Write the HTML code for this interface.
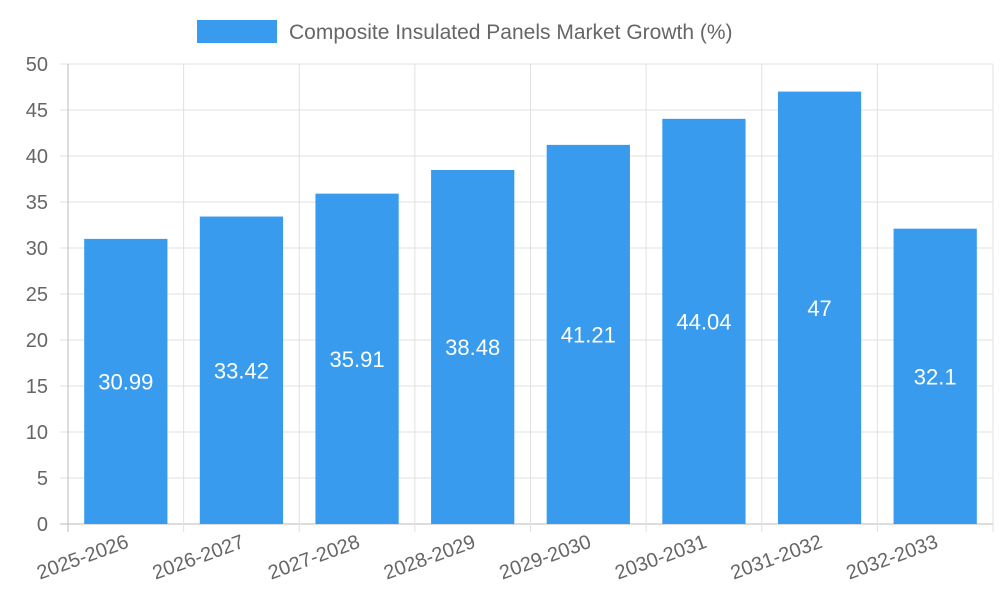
<!DOCTYPE html>
<html><head><meta charset="utf-8"><style>
body{margin:0;background:#fff;}
svg text{font-family:"Liberation Sans",sans-serif;}
</style></head><body>
<svg id="chart" width="1000" height="600" xmlns="http://www.w3.org/2000/svg">
<g id="legend">
<rect x="197" y="20" width="80" height="23" fill="#389bee"/>
<text x="289" y="39" font-size="21" fill="#666">Composite Insulated Panels Market Growth (%)</text>
</g>
<g id="grid"></g><g id="bars"></g><g id="axes"></g>
</svg>
<script>
const categories=["2025-2026","2026-2027","2027-2028","2028-2029","2029-2030","2030-2031","2031-2032","2032-2033"];
const values=[30.99,33.42,35.91,38.48,41.21,44.04,47,32.1];
const valueLabels=["30.99","33.42","35.91","38.48","41.21","44.04","47","32.1"];
const yTicks=[0,5,10,15,20,25,30,35,40,45,50];
const NS="http://www.w3.org/2000/svg";
const L=68,R=993,T=64,B=524,yMax=50;
const bw=(R-L)/categories.length;
const y=v=>B-(v/yMax)*(B-T);
const x=i=>L+bw*i;
function mk(tag,attrs,parent,txt){const e=document.createElementNS(NS,tag);for(const k in attrs)e.setAttribute(k,attrs[k]);if(txt!==undefined)e.textContent=txt;document.getElementById(parent).appendChild(e);return e;}
yTicks.forEach(t=>{
 const g=mk('line',{x1:L-8,x2:R,y1:y(t),y2:y(t),stroke:t===0?'#bbb':'#e0e0e0','stroke-width':1},'grid');
 
 
 const l=mk('text',{x:48,y:y(t)+7,'font-size':20,fill:'#666','text-anchor':'end'},'axes',String(t));
 
 
});
for(let i=0;i<=categories.length;i++){
 const g=mk('line',{x1:x(i),x2:x(i),y1:T,y2:B+8,stroke:i===0?'#bbb':'#e0e0e0','stroke-width':1},'grid');
 
 
}
values.forEach((v,i)=>{
 const cx=x(i)+bw/2, w=bw*0.72;
 const r=mk('rect',{x:cx-w/2,y:y(v),width:w,height:B-y(v),fill:'#389bee'},'bars');
 
 
 const t=mk('text',{x:cx,y:(y(v)+B)/2+8,'font-size':22,fill:'#fff','text-anchor':'middle'},'bars',valueLabels[i]);
 
 
 const c=mk('text',{x:cx+4,y:547,'font-size':20,fill:'#666','text-anchor':'end',transform:`rotate(-20 ${cx+4} 547)`},'axes',categories[i]);
 
 
});
</script>
</body></html>
